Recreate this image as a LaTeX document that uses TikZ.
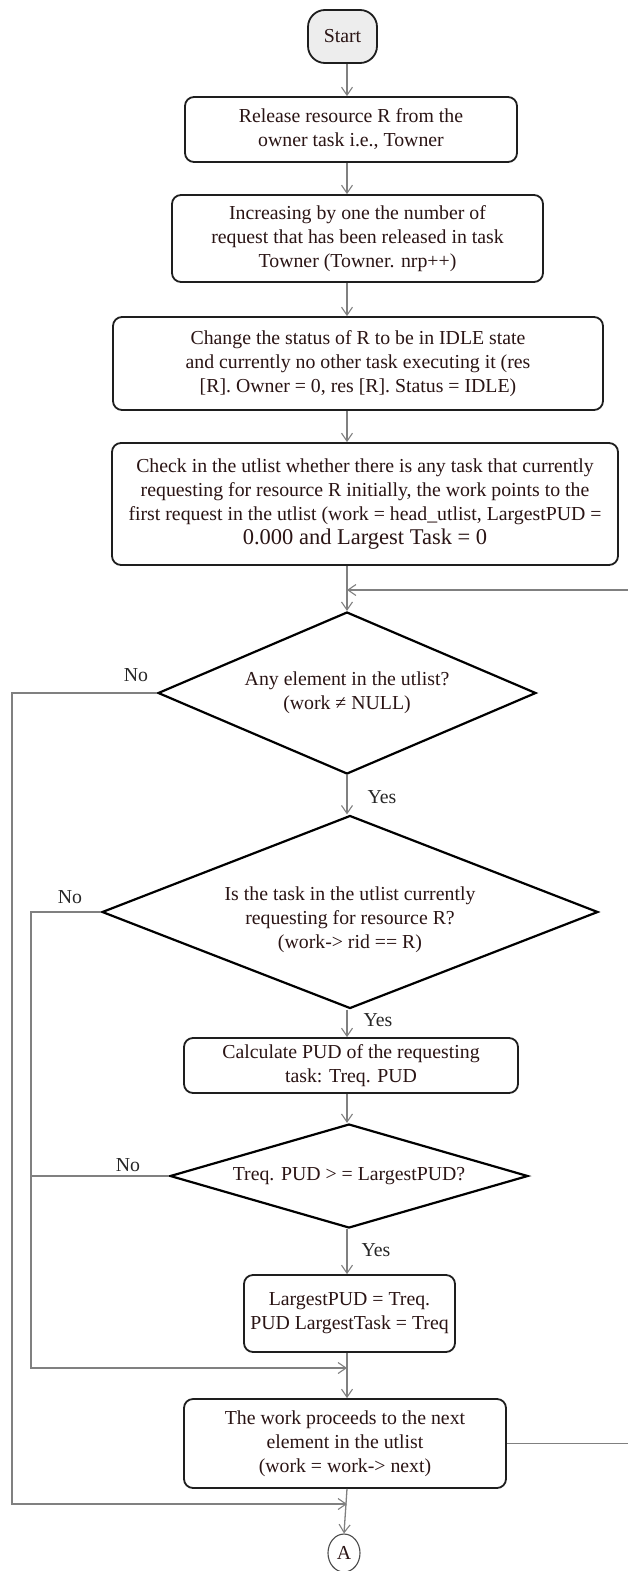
\documentclass[tikz,border=0pt]{standalone}
\usepackage{fontspec}
\setmainfont{Liberation Serif}
\usetikzlibrary{shapes.geometric,arrows.meta}
\definecolor{ink}{HTML}{2A1414}
\definecolor{wire}{HTML}{808080}
\definecolor{frame}{HTML}{1E1E1E}
\begin{document}
\begin{tikzpicture}[x=1pt,y=-1pt,
  every node/.style={font=\fontsize{19.8}{24}\selectfont, text=ink},
  procbox/.style={draw=frame, line width=1.8pt, rounded corners=9pt, inner sep=0pt, align=center, fill=white},
  decision/.style={draw=black, line width=2.2pt, shape=diamond, inner sep=0pt, align=center},
  flow/.style={draw=wire, line width=1.3pt, -{Straight Barb[length=8pt,width=11pt,line width=1.1pt]}},
  plain/.style={draw=wire, line width=1.3pt},
  tag/.style={text=black!85, inner sep=0pt}
]
\useasboundingbox (0,0) rectangle (627,1571);
% main vertical axis and the two left return rails
\coordinate (axis) at (347,0);
\coordinate (lx1) at (12,0);
\coordinate (lx2) at (31,0);
\coordinate (loopin) at (347,590);
\coordinate (m1) at (347,1368);
\coordinate (m2) at (347,1504);

% process steps
\node[procbox, fill=gray!14, rounded corners=17pt, minimum width=69pt, minimum height=53pt] (st) at (342.5,36.5) {Start};
\node[procbox, minimum width=332pt, minimum height=65pt] (b1) at (351,129.5)
  {Release resource R from the\\owner task i.e., Towner};
\node[procbox, minimum width=371pt, minimum height=87pt] (b2) at (357.5,238.5)
  {Increasing by one the number of\\request that has been released in task\\Towner (Towner. nrp++)};
\node[procbox, minimum width=490pt, minimum height=93pt] (b3) at (358,363.5)
  {Change the status of R to be in IDLE state\\and currently no other task executing it (res\\{}[R]. Owner = 0, res [R]. Status = IDLE)};
\node[procbox, minimum width=506pt, minimum height=122pt] (b4) at (365,504)
  {Check in the utlist whether there is any task that currently\\requesting for resource R initially, the work points to the\\first request in the utlist (work = head\_utlist, LargestPUD =\\{\fontsize{22.5}{27}\selectfont 0.000 and Largest Task = 0}};

% decisions
\node[decision, minimum width=378pt, minimum height=162pt, aspect=2.33] (d1) at (347,693)
  {Any element in the utlist?\\(work ≠ NULL)};
\node[decision, minimum width=496pt, minimum height=193pt, aspect=2.57] (d2) at (350,912)
  {\rule{0pt}{30pt}Is the task in the utlist currently\\requesting for resource R?\\(work-> rid == R)};
\node[procbox, minimum width=334pt, minimum height=55pt] (b5) at (351,1065.5)
  {Calculate PUD of the requesting\\task: Treq. PUD};
\node[decision, minimum width=358pt, minimum height=104pt, aspect=3.44] (d3) at (349,1176)
  {Treq. PUD > = LargestPUD?};
\node[procbox, minimum width=211pt, minimum height=77pt] (b6) at (349.5,1313.5)
  {LargestPUD = Treq.\\PUD LargestTask = Treq};
\node[procbox, minimum width=322pt, minimum height=89pt] (b7) at (345,1443.5)
  {The work proceeds to the next\\element in the utlist\\(work = work-> next)};
\node[draw=frame!80, ellipse, line width=1.1pt, minimum width=32pt, minimum height=38pt, inner sep=0pt] (ca) at (344,1553) {A};

% branch labels
\node[tag] (no1) at (136,675) {No};
\node[tag] (yes1) at (382,797) {Yes};
\node[tag] (no2) at (70,897) {No};
\node[tag] (yes2) at (378,1020) {Yes};
\node[tag] (no3) at (128,1165) {No};
\node[tag] (yes3) at (376,1250) {Yes};

% main flow
\draw[flow] (st.south -| axis) -- (b1.north -| axis);
\draw[flow] (b1.south -| axis) -- (b2.north -| axis);
\draw[flow] (b2.south -| axis) -- (b3.north -| axis);
\draw[flow] (b3.south -| axis) -- (b4.north -| axis);
\draw[flow] (b4.south -| axis) -- (d1.north);
\draw[flow] (d1.south) -- (d2.north -| axis);
\draw[flow] (d2.south -| axis) -- (b5.north -| axis);
\draw[flow] (b5.south -| axis) -- (d3.north -| axis);
\draw[flow] (d3.south -| axis) -- (b6.north -| axis);
\draw[flow] (b6.south -| axis) -- (b7.north -| axis);
\draw[flow] (b7.south -| axis) -- (ca.north);

% "No" branches back down the left side
\draw[flow] (d1.west) -- (d1.west -| lx1) |- (m2);
\draw[flow] (d2.west) -- (d2.west -| lx2) |- (m1);
\draw[plain] (d3.west) -- (d3.west -| lx2);

% loop back to the test for the next element
\draw[flow] (b7.east) -- ++(140,0) |- (loopin);
\end{tikzpicture}
\end{document}
